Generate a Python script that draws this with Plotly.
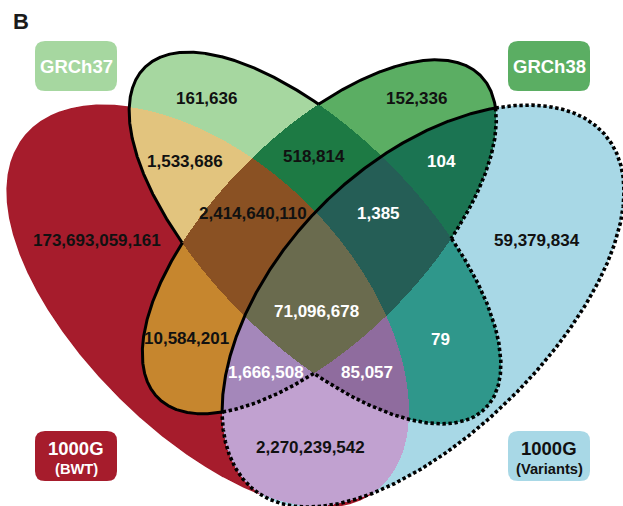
import numpy as np
import plotly.graph_objects as go

W, H = 623, 506

# ---------------- data ----------------
# sets: A = 1000G (BWT), B = GRCh37, C = GRCh38, D = 1000G (Variants)
set_keys = ["A", "B", "C", "D"]
set_titles = ["1000G", "GRCh37", "GRCh38", "1000G"]
set_subtitles = ["(BWT)", "", "", "(Variants)"]
panel_letter = "B"

region_keys = ["A", "B", "C", "D", "AB", "BC", "ABC", "CD", "BCD",
               "ABCD", "AC", "BD", "ACD", "ABD", "AD"]
region_counts = [173693059161, 161636, 152336, 59379834, 1533686, 518814,
                 2414640110, 104, 1385, 71096678, 10584201, 79, 1666508,
                 85057, 2270239542]

# ---------------- geometry / style ----------------
# shape: centre x, centre y, semi-major, semi-minor, angle (deg, screen coords),
#        bend offset at centre, bend growth towards the tips
ELLIPSES = {
    "A": (212.0, 302.0, 250.0, 135.0, 45.0, -2.0, 10.0),
    "B": (315.0, 238.0, 241.0, 105.0, 45.0, 0.0, 0.0),
    "C": (319.3, 236.8, 228.0, 103.3, -45.0, 0.0, 0.0),
    "D": (419.0, 302.0, 250.0, 135.0, -45.0, -2.0, 10.0),
}
BIT = {"A": 1, "B": 2, "C": 4, "D": 8}

REGION_COLORS = {
    "": "#FFFFFF", "A": "#A61C2C", "B": "#A6D7A0", "AB": "#E2C47E",
    "C": "#5BAE63", "AC": "#C6862E", "BC": "#1D7A44", "ABC": "#8A5123",
    "D": "#A8D8E6", "AD": "#C1A1D0", "BD": "#2F978B", "ABD": "#8F6C9E",
    "CD": "#1B7452", "ACD": "#A487BA", "BCD": "#255E56", "ABCD": "#6A6B4E",
}
LABEL_POS = {
    "A": (96.7, 240), "B": (206.7, 98), "C": (416.7, 98), "D": (536.7, 240),
    "AB": (185, 161.5), "BC": (314, 156.5), "ABC": (252.5, 213.5),
    "CD": (441, 161.5), "BCD": (378.5, 213.5), "ABCD": (316.7, 311.7),
    "AC": (186, 338.3), "BD": (440, 339), "ACD": (266.3, 372.3),
    "ABD": (367, 372.3), "AD": (310.3, 447.5),
}
WHITE_TEXT = {"CD", "BCD", "ABCD", "BD", "ACD", "ABD"}

BOXES = {  # x0, y0, x1, y1, fill, text colour
    "A": (35, 431, 117, 481, "#A61C2C", "white"),
    "B": (35, 41, 117, 91, "#A6D7A0", "white"),
    "C": (508, 41, 590, 91, "#5BAE63", "white"),
    "D": (508, 431, 590, 481, "#A8D8E6", "#111111"),
}
FONT = "Liberation Sans, Arial, Helvetica, sans-serif"


def key_of(mask):
    return "".join(k for k in set_keys if mask & BIT[k])


def inside(key, x, y):
    cx, cy, a, b, ang, c0, c2 = ELLIPSES[key]
    t = np.deg2rad(ang)
    dx, dy = x - cx, y - cy
    u = dx * np.cos(t) + dy * np.sin(t)
    v = -dx * np.sin(t) + dy * np.cos(t)
    v = v - (c0 + c2 * (u / a) ** 2)
    return (u / a) ** 2 + (v / b) ** 2 <= 1.0


def boundary(key, n=3000):
    cx, cy, a, b, ang, c0, c2 = ELLIPSES[key]
    t = np.deg2rad(ang)
    s = np.linspace(0, 2 * np.pi, n, endpoint=False)
    u = a * np.cos(s)
    v = b * np.sin(s) + c0 + c2 * np.cos(s) ** 2
    x = cx + u * np.cos(t) - v * np.sin(t)
    y = cy + u * np.sin(t) + v * np.cos(t)
    return x, y


def split_runs(bx, by, st, keep):
    """Group consecutive boundary points by status; return polylines per status."""
    out = {k: ([], []) for k in keep}
    n = len(st)
    ch = np.where(st != np.roll(st, 1))[0]
    start = int(ch[0]) if len(ch) else 0
    order = [(start + i) % n for i in range(n)] + [start]
    cur = st[order[0]]
    px, py = [bx[order[0]]], [by[order[0]]]
    for kk in range(1, n + 1):
        j = order[kk]
        px.append(bx[j]); py.append(by[j])
        if kk == n or st[j] != cur:
            if cur in out:
                out[cur][0].extend(px + [None])
                out[cur][1].extend(py + [None])
            cur = st[j]
            px, py = [bx[j]], [by[j]]
    return out


# ---------------- region map ----------------
xs = np.arange(W) + 0.5
ys = np.arange(H) + 0.5
XX, YY = np.meshgrid(xs, ys)
mask = np.zeros_like(XX, dtype=np.int16)
for k in set_keys:
    mask += inside(k, XX, YY).astype(np.int16) * BIT[k]

colors = [REGION_COLORS[key_of(m)] for m in range(16)]
cscale = []
for i, c in enumerate(colors):
    cscale.append([i / 16, c])
    cscale.append([(i + 1) / 16, c])

fig = go.Figure()
fig.add_trace(go.Heatmap(
    x=xs, y=ys, z=mask, zmin=-0.5, zmax=15.5, colorscale=cscale,
    showscale=False, hoverinfo="skip", zsmooth=False))

# smooth outer edge of the 1000G (BWT) shape where it meets the white page
ax_, ay_ = boundary("A")
stA = np.where(inside("B", ax_, ay_) | inside("C", ax_, ay_) |
               inside("D", ax_, ay_), 0, 1)
edgeA = split_runs(ax_, ay_, stA, [1])
fig.add_trace(go.Scatter(x=edgeA[1][0], y=edgeA[1][1], mode="lines",
                         line=dict(color=REGION_COLORS["A"], width=1.2),
                         hoverinfo="skip", showlegend=False))


# ---------------- outlines ----------------
def status_for(key, x, y):
    inB, inC, inD = inside("B", x, y), inside("C", x, y), inside("D", x, y)
    if key == "B":
        return np.where(inC, 0, np.where(inD, 2, 1))
    if key == "C":
        return np.where(inB, 0, np.where(inD, 2, 1))
    return np.where(inB | inC, 1, 2)


lines = {1: ([], []), 2: ([], [])}
for key in ["B", "C", "D"]:
    bx, by = boundary(key)
    st = status_for(key, bx, by)
    res = split_runs(bx, by, st, [1, 2])
    for s in (1, 2):
        lines[s][0].extend(res[s][0])
        lines[s][1].extend(res[s][1])

fig.add_trace(go.Scatter(x=lines[2][0], y=lines[2][1], mode="lines",
                         line=dict(color="black", width=3.6, dash="3.4px,2.6px"),
                         hoverinfo="skip", showlegend=False))
fig.add_trace(go.Scatter(x=lines[1][0], y=lines[1][1], mode="lines",
                         line=dict(color="black", width=3),
                         hoverinfo="skip", showlegend=False))

# ---------------- set label boxes ----------------
shapes = []
annotations = []
r = 10
for k, title, sub in zip(set_keys, set_titles, set_subtitles):
    x0, y0, x1, y1, fill, tc = BOXES[k]
    path = (f"M{x0+r},{y0} L{x1-r},{y0} Q{x1},{y0} {x1},{y0+r} "
            f"L{x1},{y1-r} Q{x1},{y1} {x1-r},{y1} L{x0+r},{y1} "
            f"Q{x0},{y1} {x0},{y1-r} L{x0},{y0+r} Q{x0},{y0} {x0+r},{y0} Z")
    shapes.append(dict(type="path", path=path, fillcolor=fill,
                       line=dict(width=0), layer="above", xref="x", yref="y"))
    cxb = (x0 + x1) / 2
    if sub:
        annotations.append(dict(x=cxb, y=y0 + 17.5, text=f"<b>{title}</b>",
                                font=dict(family=FONT, size=18.5, color=tc)))
        annotations.append(dict(x=cxb, y=y0 + 38, text=f"<b>{sub}</b>",
                                font=dict(family=FONT, size=14.7, color=tc)))
    else:
        annotations.append(dict(x=cxb, y=(y0 + y1) / 2, text=f"<b>{title}</b>",
                                font=dict(family=FONT, size=18.5, color=tc)))

# ---------------- region counts ----------------
for key, val in zip(region_keys, region_counts):
    x, y = LABEL_POS[key]
    col = "white" if key in WHITE_TEXT else "#111111"
    annotations.append(dict(x=x, y=y, text=f"<b>{val:,}</b>",
                            font=dict(family=FONT, size=17, color=col)))

annotations.append(dict(x=21, y=21, text=f"<b>{panel_letter}</b>",
                        font=dict(family=FONT, size=22, color="#1a1a1a")))

for a in annotations:
    a.update(xref="x", yref="y", showarrow=False, xanchor="center",
             yanchor="middle")

fig.update_layout(
    width=W, height=H, margin=dict(l=0, r=0, t=0, b=0),
    paper_bgcolor="white", plot_bgcolor="white",
    xaxis=dict(range=[0, W], visible=False, fixedrange=True),
    yaxis=dict(range=[H, 0], visible=False, fixedrange=True),
    shapes=shapes, annotations=annotations, showlegend=False,
)
fig.write_html(
    "out.html",
    config={"displayModeBar": False},
    post_script="document.body.style.margin='0px';"
                "document.body.style.padding='0px';"
                "document.body.style.overflow='hidden';",
)
